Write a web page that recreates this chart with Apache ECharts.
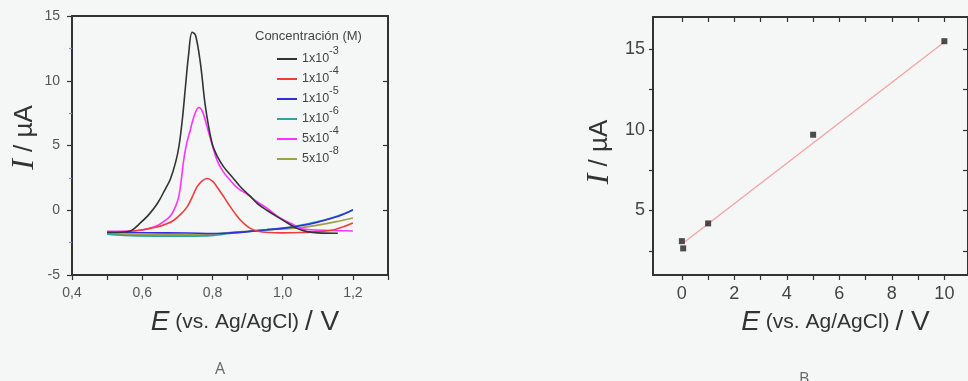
<!DOCTYPE html>
<html>
<head>
<meta charset="utf-8">
<script src="https://cdn.jsdelivr.net/npm/echarts@6/dist/echarts.min.js"></script>
<style>
html,body{margin:0;padding:0;background:#f5f6f6;}
#c{width:968px;height:381px;}
</style>
</head>
<body>
<div id="c"></div>
<script>
// ---- Panel A data: E (V) vs I (µA) ----
const seriesNamesA = ['1x10-3', '1x10-4', '1x10-5', '1x10-6', '5x10-4', '5x10-8'];
const legendBase = ['1x10', '1x10', '1x10', '1x10', '5x10', '5x10'];
const legendExp = ['-3', '-4', '-5', '-6', '-4', '-8'];
const colorsA = ['#333333', '#f03c3c', '#2f2fe0', '#2fa3a3', '#ff33ff', '#9f9f4a'];

const curve_1e3 = [[0.50,-1.72],[0.55,-1.68],[0.57,-1.55],[0.594,-1.0],[0.62,-0.3],[0.645,0.6],[0.665,1.6],[0.68,2.4],[0.695,3.7],[0.705,5.0],[0.715,7.2],[0.723,9.5],[0.732,12.0],[0.742,13.75],[0.752,13.5],[0.766,11.3],[0.78,8.0],[0.799,5.15],[0.815,4.1],[0.832,3.35],[0.855,2.6],[0.88,1.8],[0.905,1.15],[0.928,0.52],[0.955,0.0],[0.985,-0.51],[1.015,-1.0],[1.042,-1.42],[1.07,-1.65],[1.1,-1.75],[1.157,-1.78]];
const curve_1e4 = [[0.50,-1.7],[0.55,-1.65],[0.594,-1.55],[0.642,-1.3],[0.67,-1.05],[0.69,-0.77],[0.71,-0.3],[0.728,0.26],[0.742,1.0],[0.756,1.8],[0.77,2.25],[0.785,2.45],[0.8,2.25],[0.813,1.8],[0.832,1.05],[0.851,0.26],[0.866,-0.3],[0.88,-0.77],[0.895,-1.15],[0.909,-1.42],[0.93,-1.62],[0.96,-1.72],[1.0,-1.75],[1.05,-1.72],[1.1,-1.65],[1.147,-1.5],[1.175,-1.25],[1.2,-0.98]];
const curve_1e5 = [[0.50,-1.72],[0.6,-1.74],[0.73,-1.76],[0.8,-1.8],[0.85,-1.75],[0.9,-1.65],[0.95,-1.52],[1.0,-1.4],[1.05,-1.2],[1.1,-0.92],[1.137,-0.64],[1.17,-0.35],[1.2,0.05]];
const curve_1e6 = [[0.50,-1.85],[0.585,-1.98],[0.7,-2.0],[0.785,-1.98],[0.85,-1.8],[0.9,-1.66],[0.95,-1.52],[1.0,-1.38],[1.05,-1.16],[1.1,-0.88],[1.15,-0.5],[1.2,0.0]];
const curve_5e4 = [[0.50,-1.62],[0.55,-1.62],[0.594,-1.55],[0.62,-1.4],[0.642,-1.2],[0.66,-0.9],[0.68,-0.45],[0.695,0.3],[0.704,1.03],[0.712,2.5],[0.718,3.86],[0.727,5.2],[0.737,6.2],[0.748,7.3],[0.761,7.93],[0.772,7.6],[0.785,6.4],[0.80,5.0],[0.813,3.86],[0.83,3.0],[0.851,2.3],[0.87,1.75],[0.9,1.2],[0.93,0.6],[0.956,0.15],[0.985,-0.45],[1.01,-0.85],[1.03,-1.1],[1.05,-1.4],[1.08,-1.5],[1.12,-1.55],[1.16,-1.58],[1.2,-1.6]];
const curve_5e8 = [[0.50,-1.85],[0.6,-1.9],[0.7,-1.9],[0.78,-1.88],[0.85,-1.72],[0.9,-1.62],[0.95,-1.52],[1.0,-1.45],[1.05,-1.34],[1.1,-1.15],[1.15,-0.9],[1.2,-0.6]];
const curvesA = [curve_1e3, curve_1e4, curve_1e5, curve_1e6, curve_5e4, curve_5e8];

const xLabelsA = [0.4, 0.6, 0.8, 1.0, 1.2];
const yTicksA = [-5, 0, 5, 10, 15];

// ---- Panel B data ----
const concB = [0, 0.05, 1, 5, 10];
const currentB = [3.1, 2.65, 4.2, 9.7, 15.5];
const fitX = [0.1, 10];
const fitY = [3.05, 15.45];
const xTicksB = [0,1,2,3,4,5,6,7,8,9,10];
const xLabelsB = [0,2,4,6,8,10];
const yTicksB = [2.5,5,7.5,10,12.5,15];
const yLabelsB = [5,10,15];

const frame = {color:'#333', width:2};
const sans = 'Liberation Sans, Arial, sans-serif';
const nameRich = {
  i:{fontFamily:'Liberation Serif, serif', fontStyle:'italic', fontSize:32, color:'#333'},
  r:{fontFamily:sans, fontSize:26, color:'#333'},
  e:{fontFamily:sans, fontStyle:'italic', fontSize:28, color:'#333'},
  m:{fontFamily:sans, fontSize:21, color:'#333'},
  v:{fontFamily:sans, fontSize:28, color:'#333'}
};

const series = [];
curvesA.forEach((c, k) => {
  series.push({
    name: seriesNamesA[k], type:'line', xAxisIndex:0, yAxisIndex:0,
    data: c, showSymbol:false, smooth:0.35, color: colorsA[k],
    lineStyle:{width:1.6, color: colorsA[k]}, z: 10 - k
  });
});
series.push({
  type:'line', xAxisIndex:2, yAxisIndex:2, data: fitX.map((x,i)=>[x, fitY[i]]),
  showSymbol:false, lineStyle:{color:'#f3a3a3', width:1.3}, z:2, silent:true
});
series.push({
  type:'scatter', xAxisIndex:2, yAxisIndex:2, data: concB.map((x,i)=>[x, currentB[i]]),
  symbol:'rect', symbolSize:6, itemStyle:{color:'#222'}, z:5
});

const legendRich = {
  b:{fontFamily:sans, fontSize:12.5, color:'#444', lineHeight:28, verticalAlign:'middle'},
  s:{fontFamily:sans, fontSize:11, color:'#444', lineHeight:12, verticalAlign:'top'}
};
const legends = seriesNamesA.map((name, k) => ({
  data:[name], orient:'vertical', left:277, top: 45 + 20*k, itemWidth:20, itemHeight:2,
  icon:'rect', selectedMode:false, padding:0,
  formatter: function(n){ const j = seriesNamesA.indexOf(n); return '{b|' + legendBase[j] + '}{s|' + legendExp[j] + '}'; },
  textStyle:{ rich: legendRich }
}));

const option = {
  backgroundColor:'#f5f6f6',
  animation:false,
  title:[
    {text:'Concentración (M)', left:255, top:30, padding:0, textStyle:{fontFamily:sans, fontSize:13, fontWeight:'normal', color:'#444'}},
    {text:'A', left:215, top:361, padding:0, textStyle:{fontFamily:'Open Sans, sans-serif', fontSize:16, fontWeight:'normal', color:'#666'}},
    {text:'B', left:799, top:371, padding:0, textStyle:{fontFamily:'Open Sans, sans-serif', fontSize:16, fontWeight:'normal', color:'#666'}}
  ],
  legend: legends,
  grid:[
    {left:72, top:16, width:316, height:259},
    {left:653, top:17, width:318, height:258}
  ],
  xAxis:[
    {gridIndex:0, type:'value', min:0.4, max:1.3, interval:0.1, position:'bottom',
     axisLine:{show:true, onZero:false, lineStyle:frame},
     axisTick:{show:true, inside:false, length:5, lineStyle:{color:'#333', width:1.2}},
     axisLabel:{customValues:xLabelsA, formatter:v=>v.toFixed(1).replace('.', ','), fontFamily:sans, fontSize:14, color:'#555', margin:11},
     splitLine:{show:false},
     name:'{e|E}{m| (vs. Ag/AgCl) }{v|/ V}', nameLocation:'middle', nameGap:33,
     nameTextStyle:{rich:nameRich, padding:[0,0,0,30]}
    },
    {gridIndex:0, type:'value', min:0.4, max:1.3, position:'top',
     axisLine:{show:true, onZero:false, lineStyle:frame}, axisTick:{show:false}, axisLabel:{show:false}, splitLine:{show:false}},
    {gridIndex:1, type:'value', min:-1.1, max:10.9, position:'bottom',
     axisLine:{show:true, onZero:false, lineStyle:frame},
     axisTick:{show:true, customValues:xTicksB, length:5, lineStyle:{color:'#333', width:1.2}},
     axisLabel:{customValues:xLabelsB, fontFamily:sans, fontSize:18, color:'#444', margin:10},
     splitLine:{show:false},
     name:'{e|E}{m| (vs. Ag/AgCl) }{v|/ V}', nameLocation:'middle', nameGap:33,
     nameTextStyle:{rich:nameRich, padding:[0,0,0,50]}
    },
    {gridIndex:1, type:'value', min:-1.1, max:10.9, position:'top',
     axisLine:{show:true, onZero:false, lineStyle:frame},
     axisTick:{show:true, inside:true, customValues:xTicksB, length:5, lineStyle:{color:'#333', width:1.2}},
     axisLabel:{show:false}, splitLine:{show:false}}
  ],
  yAxis:[
    {gridIndex:0, type:'value', min:-5, max:15, interval:5, position:'left',
     axisLine:{show:true, onZero:false, lineStyle:frame},
     axisTick:{show:true, length:5, lineStyle:{color:'#333', width:1.2}},
     minorTick:{show:true, splitNumber:2, length:3, lineStyle:{color:'#8484d6', width:1.2}},
     axisLabel:{customValues:yTicksA, fontFamily:sans, fontSize:14, color:'#555', margin:12},
     splitLine:{show:false},
     name:'{i|I}{r| / µA}', nameLocation:'middle', nameGap:30,
     nameTextStyle:{rich:nameRich, padding:[0,0,0,16]}
    },
    {gridIndex:0, type:'value', min:-5, max:15, position:'right',
     axisLine:{show:true, onZero:false, lineStyle:frame},
     axisTick:{show:true, inside:true, customValues:[0,5,10], length:5, lineStyle:{color:'#333', width:1.2}},
     axisLabel:{show:false}, splitLine:{show:false}},
    {gridIndex:1, type:'value', min:1, max:17, position:'left',
     axisLine:{show:true, onZero:false, lineStyle:frame},
     axisTick:{show:true, customValues:yTicksB, length:4, lineStyle:{color:'#333', width:1.2}},
     axisLabel:{customValues:yLabelsB, fontFamily:sans, fontSize:18, color:'#444', margin:8},
     splitLine:{show:false},
     name:'{i|I}{r| / µA}', nameLocation:'middle', nameGap:37,
     nameTextStyle:{rich:nameRich, padding:[0,12,0,0]}
    },
    {gridIndex:1, type:'value', min:1, max:17, position:'right',
     axisLine:{show:true, onZero:false, lineStyle:frame},
     axisTick:{show:true, inside:true, customValues:yTicksB, length:5, lineStyle:{color:'#333', width:1.2}},
     axisLabel:{show:false}, splitLine:{show:false}}
  ],
  series: series
};
const chart = echarts.init(document.getElementById('c'), null, {renderer:'canvas'});
chart.setOption(option);
</script>
</body>
</html>
